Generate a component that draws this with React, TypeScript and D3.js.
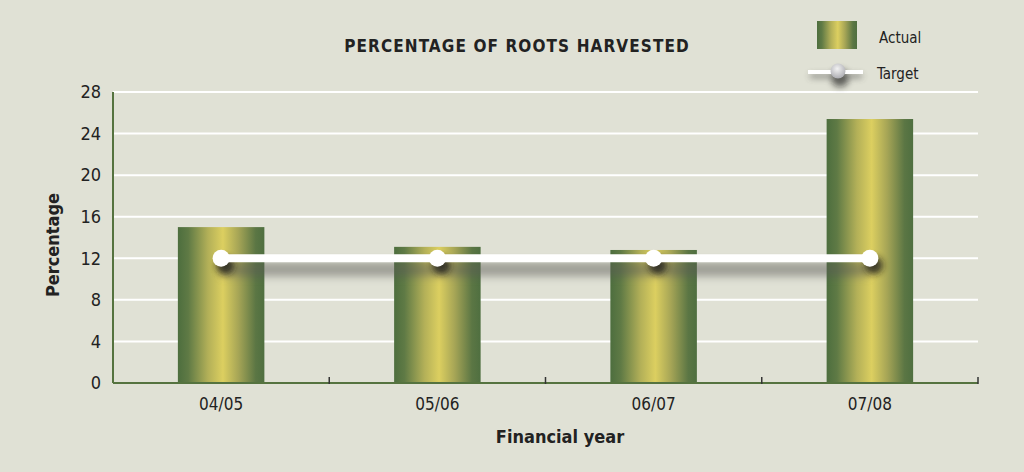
import React from "react";
import * as d3 from "d3";

const categories = ["04/05", "05/06", "06/07", "07/08"];
const actual = [15.0, 13.1, 12.8, 25.4];
const target = [12, 12, 12, 12];
const yTicks = [0, 4, 8, 12, 16, 20, 24, 28];

const W = 1024;
const H = 472;
const M = { left: 113, right: 978, top: 92, bottom: 383 };
const FONT = "'DejaVu Sans Condensed', 'Liberation Sans Narrow', sans-serif";

export default function App() {
  const x = d3.scaleBand<string>().domain(categories).range([M.left, M.right]).paddingInner(0.6).paddingOuter(0.3);
  const xb = d3.scaleBand<string>().domain(categories).range([M.left, M.right]);
  const y = d3.scaleLinear().domain([0, 28]).range([M.bottom, M.top]);
  const line = d3
    .line<number>()
    .x((_, i) => (xb(categories[i]) as number) + xb.bandwidth() / 2)
    .y((d) => y(d));
  const boundaries = categories.map((c) => (xb(c) as number) + xb.bandwidth());
  return (
    <svg width={W} height={H} style={{ position: "absolute", left: 0, top: 0 }}>
      <defs>
        <linearGradient id="barGrad" x1="0" x2="1" y1="0" y2="0">
          <stop offset="0" stopColor="#4d6e3e" />
          <stop offset="0.12" stopColor="#5f7a45" />
          <stop offset="0.35" stopColor="#b3b058" />
          <stop offset="0.52" stopColor="#dccf60" />
          <stop offset="0.7" stopColor="#a6a556" />
          <stop offset="0.9" stopColor="#5b7644" />
          <stop offset="1" stopColor="#4f6f40" />
        </linearGradient>
        <filter id="blur" filterUnits="userSpaceOnUse" x={0} y={0} width={W} height={H}>
          <feGaussianBlur stdDeviation="4" />
        </filter>
        <filter id="blurS" filterUnits="userSpaceOnUse" x={0} y={0} width={W} height={H}>
          <feGaussianBlur stdDeviation="3" />
        </filter>
        <radialGradient id="legDot" cx="0.45" cy="0.35" r="0.7">
          <stop offset="0" stopColor="#f2f2f2" />
          <stop offset="1" stopColor="#a8a8ae" />
        </radialGradient>
      </defs>
      <rect x={0} y={0} width={W} height={H} fill="#e0e1d5" />
      {yTicks.slice(1).map((t) => (
        <line key={t} x1={M.left} x2={M.right} y1={y(t)} y2={y(t)} stroke="#ffffff" strokeWidth={2} />
      ))}
      {categories.map((c, i) => (
        <rect
          key={c}
          x={x(c)}
          y={y(actual[i])}
          width={x.bandwidth()}
          height={y(0) - y(actual[i])}
          fill="url(#barGrad)"
        />
      ))}
      <line x1={M.left} x2={M.left} y1={M.top} y2={M.bottom} stroke="#55733f" strokeWidth={2} />
      <line x1={M.left} x2={M.right} y1={M.bottom} y2={M.bottom} stroke="#55733f" strokeWidth={2} />
      {boundaries.map((b, i) => (
        <line key={i} x1={b} x2={b} y1={M.bottom - 6} y2={M.bottom + 1} stroke="#333" strokeWidth={1.5} />
      ))}
      {/* target shadow */}
      <g filter="url(#blur)" opacity={0.5}>
        <path d={line(target) as string} transform="translate(0,11)" stroke="#5a5a55" strokeWidth={14} fill="none" />
      </g>
      <g filter="url(#blurS)" opacity={0.8}>
        {target.map((v, i) => (
          <circle key={i} cx={(xb(categories[i]) as number) + xb.bandwidth() / 2 + 4} cy={y(v) + 7} r={9} fill="#1a1a1a" />
        ))}
      </g>
      <path d={line(target) as string} stroke="#ffffff" strokeWidth={8} fill="none" />
      {target.map((v, i) => (
        <circle key={i} cx={(xb(categories[i]) as number) + xb.bandwidth() / 2} cy={y(v)} r={8.5} fill="#ffffff" />
      ))}
      {yTicks.map((t) => (
        <text key={t} x={M.left - 12} y={y(t)} dy="0.35em" textAnchor="end" fontFamily={FONT} fontSize={18} fill="#222">
          {t}
        </text>
      ))}
      {categories.map((c) => (
        <text
          key={c}
          x={(xb(c) as number) + xb.bandwidth() / 2}
          y={410}
          textAnchor="middle"
          fontFamily={FONT}
          fontSize={17}
          fill="#222"
        >
          {c}
        </text>
      ))}
      <text x={560} y={443} textAnchor="middle" fontFamily={FONT} fontSize={18} fontWeight="bold" fill="#222">
        Financial year
      </text>
      <text
        transform="translate(59,245) rotate(-90)"
        textAnchor="middle"
        fontFamily={FONT}
        fontSize={18}
        fontWeight="bold"
        fill="#222"
      >
        Percentage
      </text>
      <text x={517} y={52} textAnchor="middle" fontFamily={FONT} fontSize={17} fontWeight="bold" letterSpacing={1.1} fill="#222">
        PERCENTAGE OF ROOTS HARVESTED
      </text>
      {/* legend */}
      <rect x={817} y={21} width={40} height={28} fill="url(#barGrad)" />
      <text x={879} y={43} fontFamily={FONT} fontSize={15} fill="#222">
        Actual
      </text>
      <g filter="url(#blurS)" opacity={0.6}>
        <line x1={810} x2={862} y1={76} y2={76} stroke="#444" strokeWidth={4} />
        <circle cx={840} cy={78} r={9} fill="#111" />
      </g>
      <line x1={808} x2={863} y1={72} y2={72} stroke="#ffffff" strokeWidth={4} />
      <circle cx={838} cy={71} r={7.5} fill="url(#legDot)" />
      <text x={877} y={79} fontFamily={FONT} fontSize={15} fill="#222">
        Target
      </text>
    </svg>
  );
}
